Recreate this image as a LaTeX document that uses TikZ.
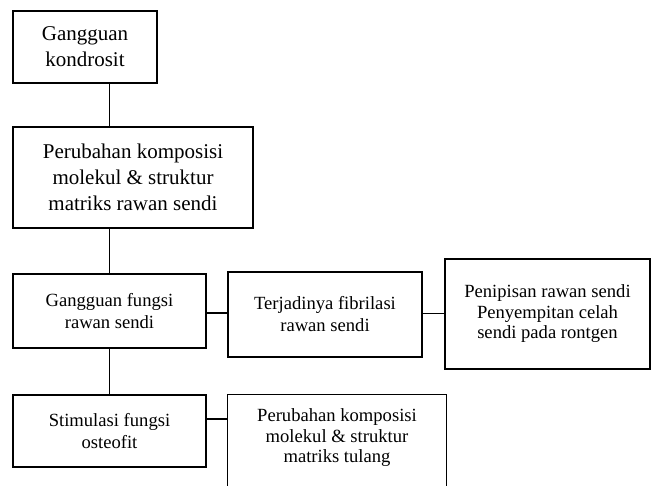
\documentclass[tikz,border=0pt]{standalone}
\usepackage{fontspec}
\setmainfont{Liberation Serif}
\begin{document}
\begin{tikzpicture}[x=1pt,y=-1pt, line width=1.4pt,
 box/.style={draw, rectangle, align=center, inner sep=0pt},
 conn/.style={draw, line width=1.4pt},
 big/.style={font=\fontsize{21}{26}\selectfont},
 small/.style={font=\fontsize{18.6}{22}\selectfont},
 tight/.style={font=\fontsize{18.6}{20.5}\selectfont}]
\useasboundingbox (0,0) rectangle (651,486);
\node[box,big,minimum width=144pt,minimum height=72pt] (b1) at (85,47) {Gangguan\\kondrosit};
\node[box,big,minimum width=240pt,minimum height=101pt] (b2) at (133,177.5) {Perubahan komposisi\\molekul \& struktur\\matriks rawan sendi};
\node[box,small,minimum width=193pt,minimum height=74pt] (b3) at (109.5,311) {Gangguan fungsi\\rawan sendi};
\node[box,small,minimum width=194pt,minimum height=85pt] (b4) at (325,314.5) {Terjadinya fibrilasi\\rawan sendi};
\node[box,tight,minimum width=205pt,minimum height=110pt] (b5) at (547.5,314) {Penipisan rawan sendi\\Penyempitan celah\\sendi pada rontgen};
\node[box,small,minimum width=193pt,minimum height=72pt] (b6) at (109.5,431) {Stimulasi fungsi\\osteofit};
\node[box,tight,draw=none,minimum width=218pt,minimum height=86pt] (b7) at (337,438) {Perubahan komposisi\\molekul \& struktur\\matriks tulang};
\path[conn] ([yshift=-8pt]b7.south west) |- (b7.north) -| ([yshift=-8pt]b7.south east);
\path[conn] (b3.center |- b1.south) -- (b3.center |- b2.north);
\path[conn] (b3.center |- b2.south) -- (b3.north);
\path[conn] (b3.south) -- (b6.north);
\path[conn] ([yshift=-2pt]b3.east) -- ([yshift=-2pt]b3.east -| b4.west);
\path[conn] ([yshift=1pt]b4.east) -- ([yshift=1pt]b4.east -| b5.west);
\path[conn] ([yshift=12pt]b6.east) -- ([yshift=12pt]b6.east -| b7.west);
\end{tikzpicture}
\end{document}
